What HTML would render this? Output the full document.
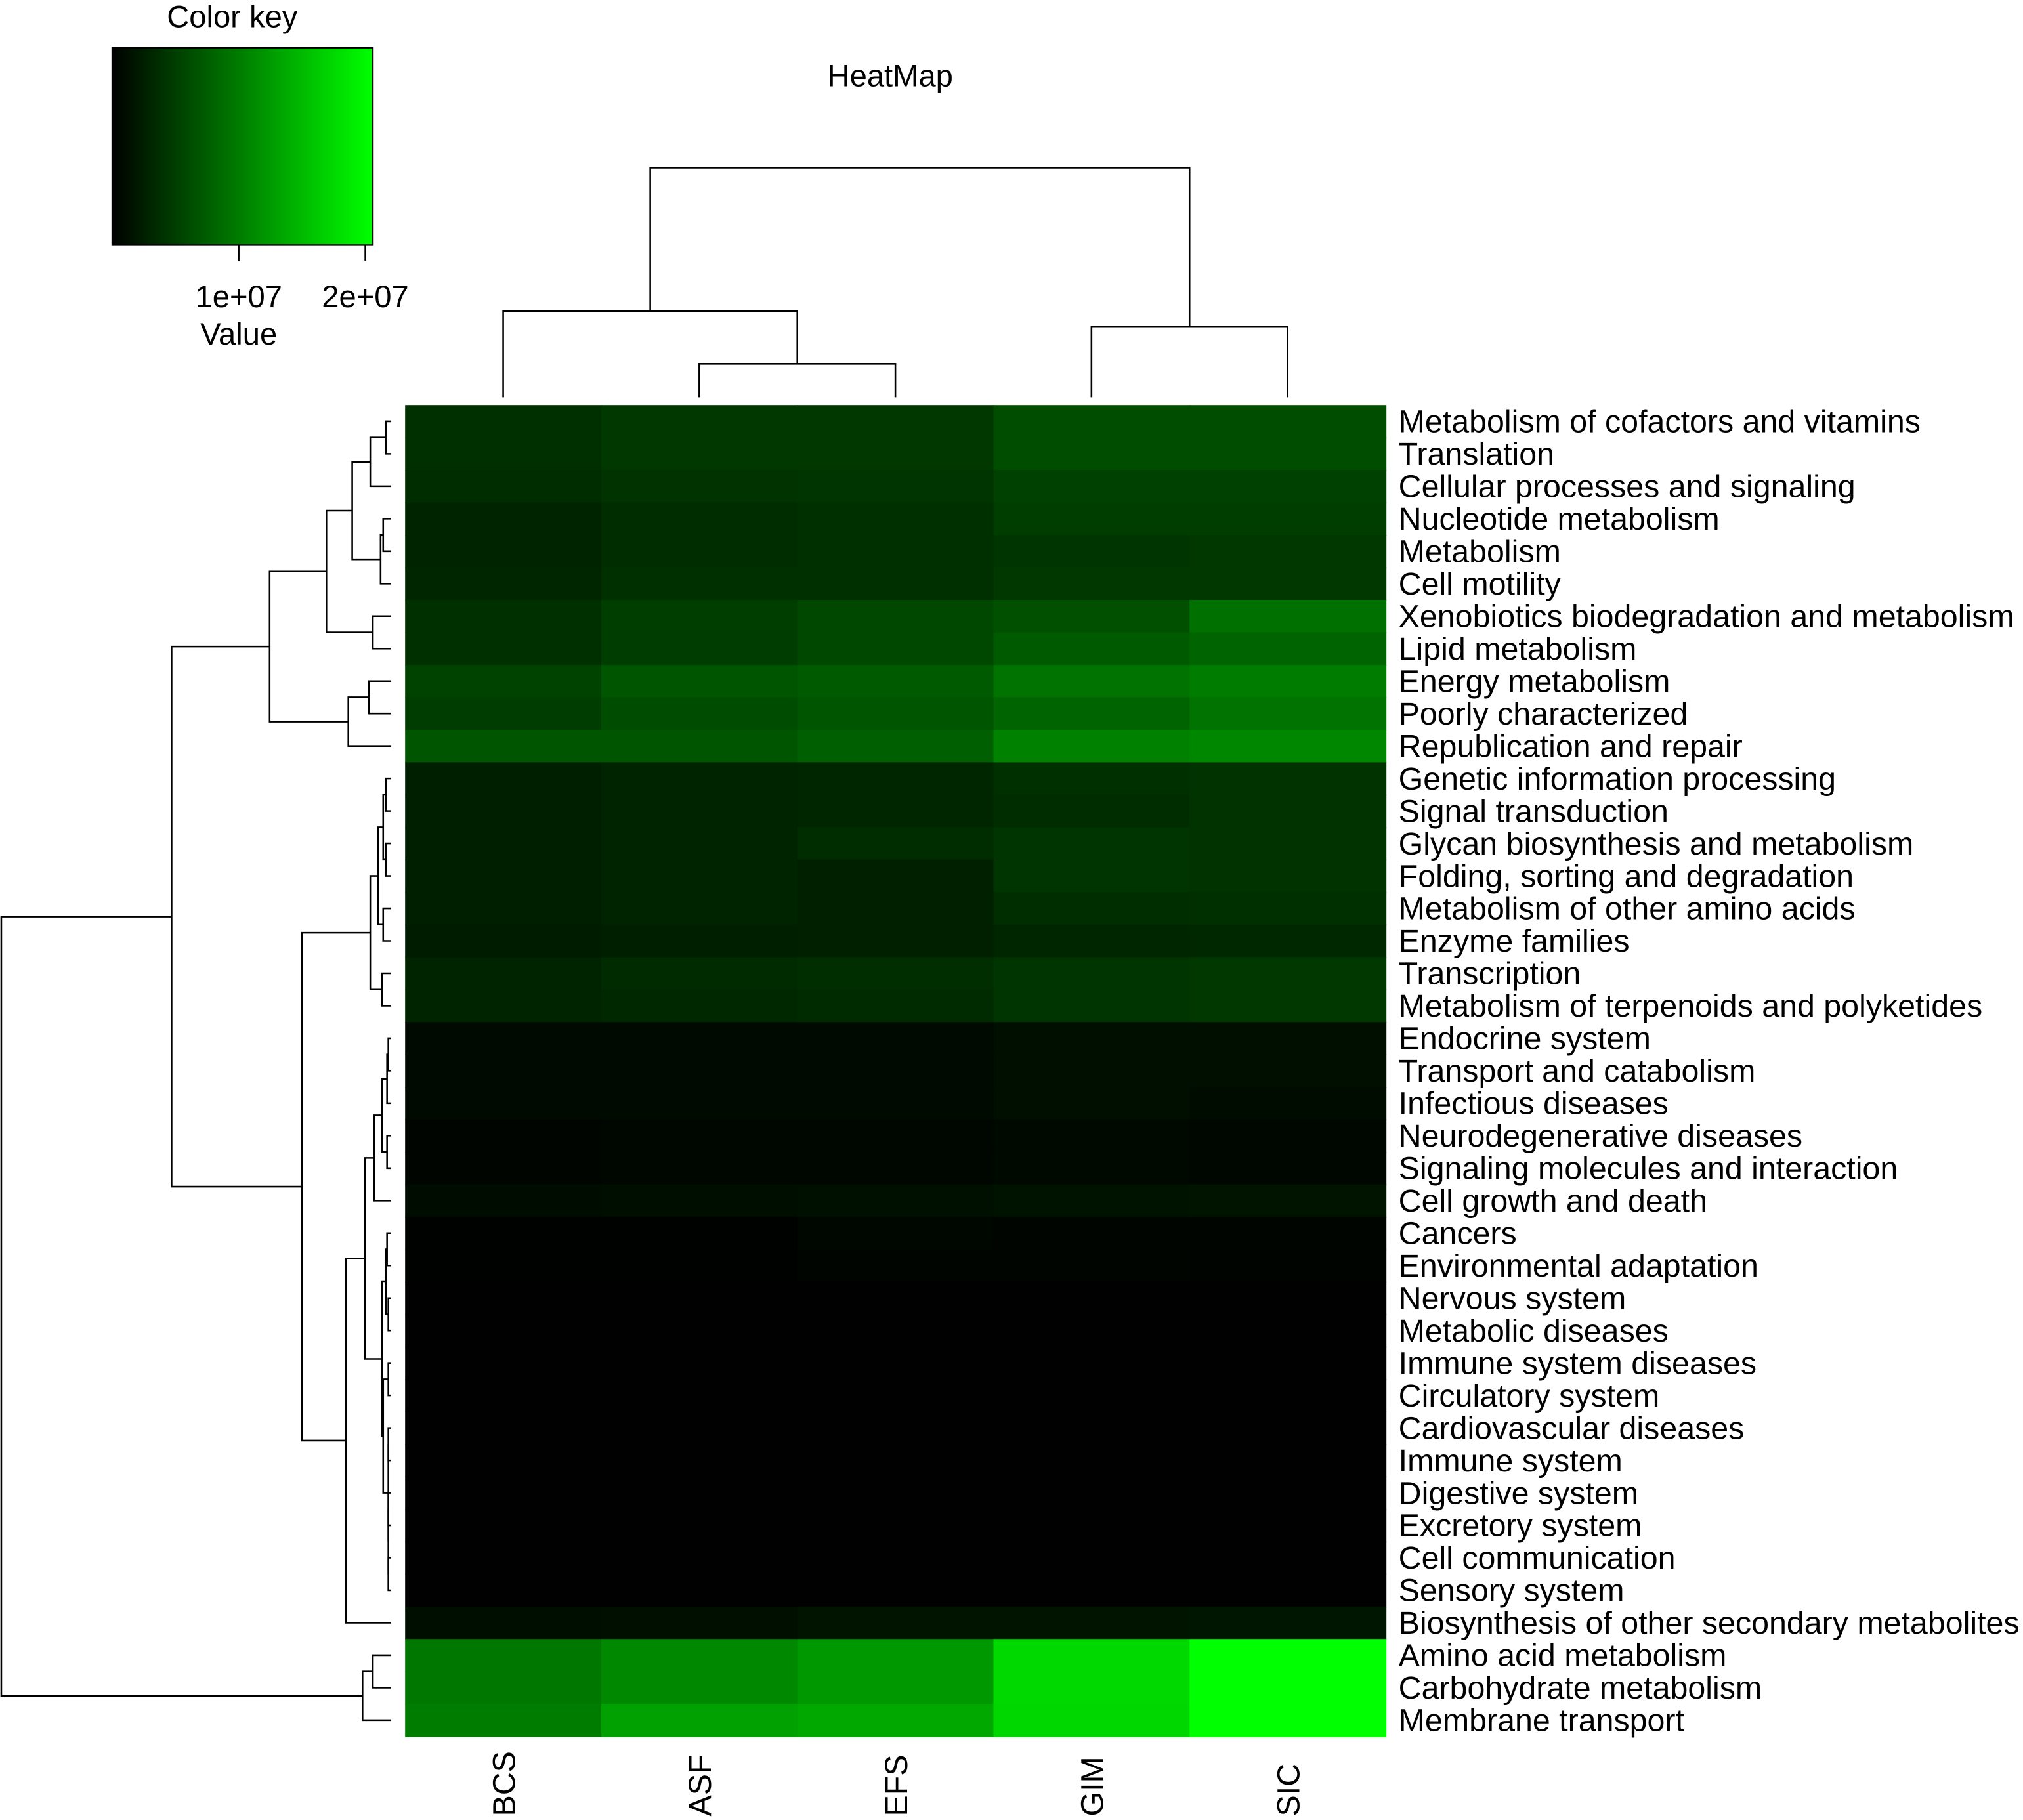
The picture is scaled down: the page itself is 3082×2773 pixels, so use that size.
<!DOCTYPE html>
<html><head><meta charset="utf-8"><style>
html,body{margin:0;padding:0;background:#fff;}
svg{display:block;}
text{font-family:"Liberation Sans",Arial,sans-serif;fill:#000;}
</style></head><body>
<svg id="chart" width="3082" height="2773" viewBox="0 0 1568 1410.8" preserveAspectRatio="none" xmlns="http://www.w3.org/2000/svg">
<defs><linearGradient id="kg" x1="0" x2="1" y1="0" y2="0"><stop offset="0" stop-color="#000"/><stop offset="1" stop-color="#00ff00"/></linearGradient></defs>
<g id="key">
<text x="180" y="21" font-size="24" text-anchor="middle">Color key</text>
<rect x="87" y="37" width="202" height="153" fill="url(#kg)" stroke="#000" stroke-width="1.2"/>
</g>
<text x="690" y="67" font-size="24" text-anchor="middle">HeatMap</text>
<g id="cells"></g><g id="rowlabels"></g><g id="collabels"></g><g id="dend" fill="none" stroke="#000" stroke-width="1.3"></g>
</svg>
<script>
const columns=["BCS","ASF","EFS","GIM","SIC"];
const rows=["Metabolism of cofactors and vitamins","Translation","Cellular processes and signaling","Nucleotide metabolism","Metabolism","Cell motility","Xenobiotics biodegradation and metabolism","Lipid metabolism","Energy metabolism","Poorly characterized","Republication and repair","Genetic information processing","Signal transduction","Glycan biosynthesis and metabolism","Folding, sorting and degradation","Metabolism of other amino acids","Enzyme families","Transcription","Metabolism of terpenoids and polyketides","Endocrine system","Transport and catabolism","Infectious diseases","Neurodegenerative diseases","Signaling molecules and interaction","Cell growth and death","Cancers","Environmental adaptation","Nervous system","Metabolic diseases","Immune system diseases","Circulatory system","Cardiovascular diseases","Immune system","Digestive system","Excretory system","Cell communication","Sensory system","Biosynthesis of other secondary metabolites","Amino acid metabolism","Carbohydrate metabolism","Membrane transport"];
// values in units of 1e5
const colBCS=[39,39,36,28,28,31,39,39,53,49,69,24,24,24,24,24,23,28,28,8,8,8,4,4,10,2,2,1,1,1,1,1,1,1,1,1,1,11,97,97,101];
const colASF=[45,45,41,36,36,39,50,49,69,61,69,28,28,28,28,28,24,34,32,8,8,8,5,5,11,2,2,1,1,1,1,1,1,1,1,1,1,12,110,110,130];
const colEFS=[45,45,42,39,39,39,57,58,73,69,77,31,31,36,26,26,26,37,34,8,8,8,5,5,13,5,4,1,1,1,1,1,1,1,1,1,1,16,123,123,136];
const colGIM=[62,62,52,50,42,45,65,73,93,81,104,39,36,42,42,37,31,42,42,12,12,12,7,7,15,4,4,1,1,1,1,1,1,1,1,1,1,16,175,175,174];
const colSIC=[62,62,52,50,45,45,91,81,101,93,109,41,41,41,41,39,32,45,45,12,12,10,6,6,16,4,3,1,1,1,1,1,1,1,1,1,1,18,206,206,206];
const keyTicks=[1e7,2e7];
const keyTickLabels=["1e+07","2e+07"];
const keyMax=2.06e7;
const series=[colBCS,colASF,colEFS,colGIM,colSIC];
const X0=314,X1=1074,Y0=314,Y1=1346;
const cw=(X1-X0)/columns.length, rh=(Y1-Y0)/rows.length;
const xOf=c=>X0+c*cw, yOf=r=>Y0+r*rh, cyOf=r=>Y0+(r+0.5)*rh, cxOf=c=>X0+(c+0.5)*cw;
const colorOf=v=>{const g=Math.min(255,Math.round(v*1e5/keyMax*255));return `rgb(0,${g},0)`;};
const NS="http://www.w3.org/2000/svg";
function mk(tag,attrs,parent){const e=document.createElementNS(NS,tag);for(const k in attrs)e.setAttribute(k,attrs[k]);parent.appendChild(e);return e;}
const cells=document.getElementById('cells');
series.forEach((s,c)=>s.forEach((v,r)=>{
 const e=mk('rect',{x:xOf(c),y:yOf(r),width:cw+0.6,height:rh+0.6,fill:colorOf(v)},cells);
 
 
}));
const rl=document.getElementById('rowlabels');
rows.forEach((n,r)=>{const t=mk('text',{x:1084,y:cyOf(r)+8.5,'font-size':24.6},rl);t.textContent=n;
 
 });
const cl=document.getElementById('collabels');
columns.forEach((n,c)=>{const x=cxOf(c)+9,y=1408;const t=mk('text',{x:x,y:y,'font-size':24.6,transform:`rotate(-90 ${x} ${y})`},cl);t.textContent=n;
 
 });
const key=document.getElementById('key');
const kx=v=>87+v/keyMax*202;
keyTicks.forEach((v,i)=>{const l=mk('line',{x1:kx(v),x2:kx(v),y1:190,y2:202,stroke:'#000','stroke-width':1.2},key);
 
 
 const t=mk('text',{x:kx(v),y:238,'font-size':24,'text-anchor':'middle'},key);t.textContent=keyTickLabels[i];
 
 });
const vt=mk('text',{x:185,y:267,'font-size':24,'text-anchor':'middle'},key);vt.textContent="Value";


const dend=document.getElementById('dend');
const rowTree=[1,[133,[209,[253,[273,[287,[299,0,1],2],[295,[297,3,4],5]],[289,6,7]],[270,[286,8,9],10]],[234,[287,[293,[297,[299,11,12],[299,13,14]],[297,15,16]],[296,17,18]],[268,[283,[290,[296,[300,[301,19,20],21],[300,22,23]],24],[296,[299,[300,25,26],[301,27,28]],[297,[301,29,30],[301,[301,31,32],[301,[301,33,34],[301,35,36]]]]]],37]]],[281,[289,38,39],40]];
function drawRow(n){if(typeof n==='number')return {p:cyOf(n),h:303};
 const a=drawRow(n[1]),b=drawRow(n[2]),h=n[0];
 const p=mk('path',{d:`M${a.h},${a.p}H${h}V${b.p}H${b.h}`},dend);
 
 
 return {p:(a.p+b.p)/2,h:h};}
drawRow(rowTree);
const colTree=[130,[241,0,[282,1,2]],[253,3,4]];
function drawCol(n){if(typeof n==='number')return {p:cxOf(n),h:308};
 const a=drawCol(n[1]),b=drawCol(n[2]),h=n[0];
 const p=mk('path',{d:`M${a.p},${a.h}V${h}H${b.p}V${b.h}`},dend);
 
 
 return {p:(a.p+b.p)/2,h:h};}
drawCol(colTree);
</script>
</body></html>
